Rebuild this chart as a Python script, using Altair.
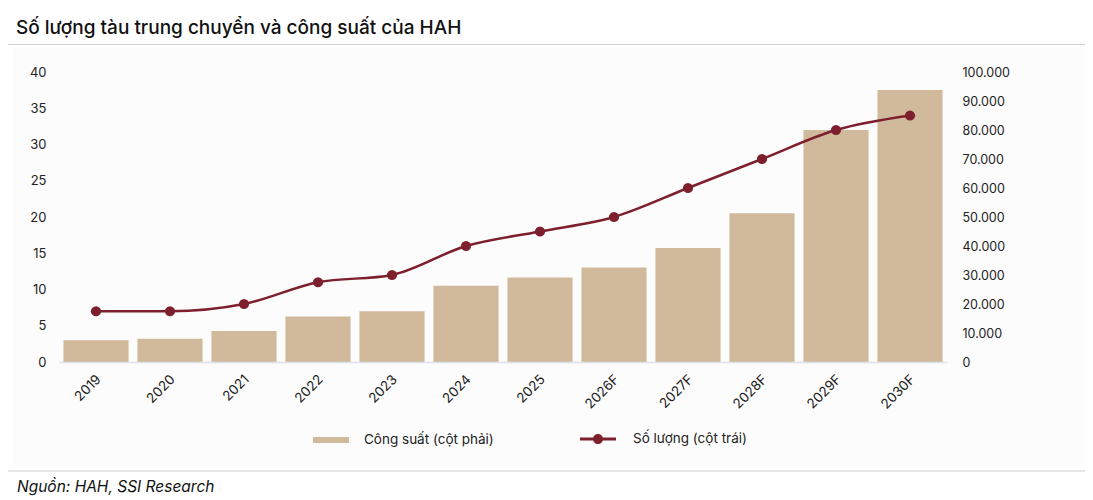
import altair as alt
import pandas as pd

# ---- data ----
years = ["2019", "2020", "2021", "2022", "2023", "2024", "2025",
         "2026F", "2027F", "2028F", "2029F", "2030F"]
so_luong = [7, 7, 8, 11, 12, 16, 18, 20, 24, 28, 32, 34]            # left axis
cong_suat = [7500, 8000, 10700, 15700, 17500, 26300, 29100,
             32600, 39300, 51300, 80000, 93800]                        # right axis
left_ticks = [0, 5, 10, 15, 20, 25, 30, 35, 40]
right_ticks = [0, 10000, 20000, 30000, 40000, 50000, 60000, 70000, 80000, 90000, 100000]
bar_label = "Công suất (cột phải)"
line_label = "Số lượng (cột trái)"
title_text = "Số lượng tàu trung chuyển và công suất của HAH"
source_text = "Nguồn: HAH, SSI Research"

BAR = "#d1b99c"
LINE = "#7e1f2d"
FONT = "Inter"

df = pd.DataFrame({
    "Năm": years,
    "SoLuong": so_luong,
    "CongSuat": cong_suat,
    "bar_lbl": bar_label,
    "line_lbl": line_label,
})
one = pd.DataFrame({"t": [title_text], "s": [source_text]})

W, H = 888, 290

x_enc = alt.X(
    "Năm:N", sort=years,
    scale=alt.Scale(paddingInner=0.12, paddingOuter=0.06),
    axis=alt.Axis(title=None, labelAngle=-45, labelFontSize=13.5, labelColor="#222",
                  labelFont=FONT, domainColor="#dfe1e8", domainWidth=1.5,
                  ticks=False, labelPadding=10, labelOffset=-2, zindex=1),
)

# background panel, separators, title, source (decoration)
panel = alt.Chart(one).mark_rect(color="#fcfcfc").encode(
    x=alt.value(-45), x2=alt.value(1030), y=alt.value(-24), y2=alt.value(394))
sep_top = alt.Chart(one).mark_rule(color="#cfcfcf", strokeWidth=1).encode(
    x=alt.value(-60), x2=alt.value(1040), y=alt.value(-27.5))
sep_bot = alt.Chart(one).mark_rule(color="#cfcfcf", strokeWidth=1).encode(
    x=alt.value(-60), x2=alt.value(1040), y=alt.value(399))
title = alt.Chart(one).mark_text(
    align="left", baseline="alphabetic", font=FONT, fontSize=19, fontWeight=500,
    color="#111").encode(text="t:N", x=alt.value(-43), y=alt.value(-38))
source = alt.Chart(one).mark_text(
    align="left", baseline="alphabetic", font=FONT, fontSize=15.5, fontStyle="italic",
    color="#111").encode(text="s:N", x=alt.value(-42), y=alt.value(420))

bars = alt.Chart(df).mark_bar().encode(
    x=x_enc,
    y=alt.Y("CongSuat:Q", scale=alt.Scale(domain=[0, 100000]),
            axis=alt.Axis(orient="right", values=right_ticks, title=None,
                          labelExpr="replace(format(datum.value, ','), ',', '.')",
                          domain=False, ticks=False, grid=False, labelPadding=15,
                          labelFont=FONT, labelFontSize=12.5, labelColor="#222", zindex=1)),
    fill=alt.Fill("bar_lbl:N", scale=alt.Scale(domain=[bar_label], range=[BAR]),
                  legend=alt.Legend(title=None, orient="none", legendX=254, legendY=350,
                                    symbolType="M-1,-0.17L1,-0.17L1,0.17L-1,0.17Z",
                                    symbolSize=1296, symbolStrokeWidth=0,
                                    labelFont=FONT, labelFontSize=13.5, labelColor="#222",
                                    labelOffset=15, padding=0)),
)

y_left = alt.Y("SoLuong:Q", scale=alt.Scale(domain=[0, 40]),
               axis=alt.Axis(orient="left", values=left_ticks, title=None,
                             domain=False, ticks=False, grid=False, labelPadding=13,
                             labelFont=FONT, labelFontSize=13, labelColor="#222", zindex=1))
color_enc = alt.Color("line_lbl:N", scale=alt.Scale(domain=[line_label], range=[LINE]),
                      legend=alt.Legend(title=None, orient="none", legendX=521, legendY=349,
                                        symbolType="M-1,-0.085L1,-0.085L1,0.085L-1,0.085Z M0.28,0A0.28,0.28 0 1,1 -0.28,0A0.28,0.28 0 1,1 0.28,0Z",
                                        symbolSize=1296, symbolStrokeWidth=0,
                                        symbolFillColor=LINE,
                                        labelFont=FONT, labelFontSize=13.5, labelColor="#222",
                                        labelOffset=17, padding=0))

line = alt.Chart(df).mark_line(interpolate="monotone", strokeWidth=2.5).encode(
    x=x_enc, y=y_left, color=color_enc)
points = alt.Chart(df).mark_circle(size=105, opacity=1).encode(
    x=x_enc, y=y_left, color=color_enc)

lp = alt.layer(line, points)
main = alt.layer(bars, lp).resolve_scale(y="independent")

chart = alt.layer(panel, sep_top, sep_bot, title, source, main).properties(
    width=W, height=H,
    autosize=alt.AutoSizeParams(type="none"),
    padding={"left": 51, "top": 64, "right": 138, "bottom": 135},
).configure_view(stroke=None).configure(background="white")

chart.save("out.html", embed_options={"renderer": "svg", "actions": False})
